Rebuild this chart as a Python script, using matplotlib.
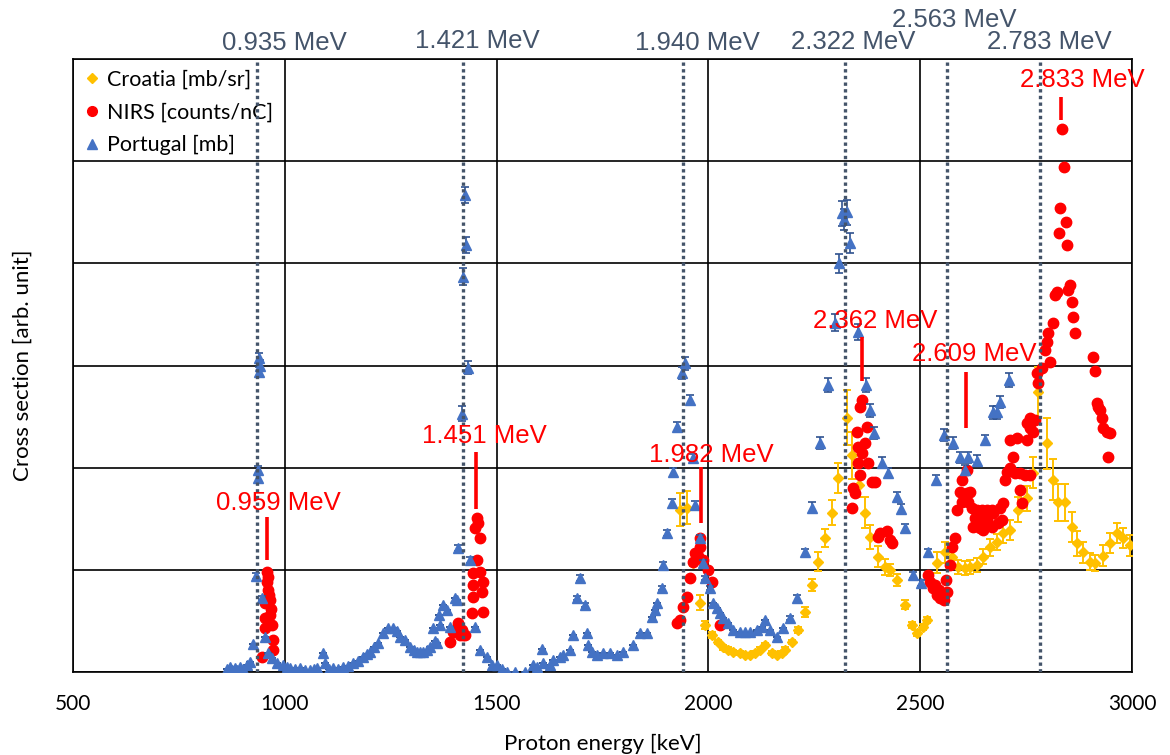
import matplotlib
matplotlib.use("Agg")
import matplotlib.pyplot as plt
from matplotlib.lines import Line2D

# ---------------- data ----------------
# Portugal [mb] (blue triangles)
port_e = [863, 870, 876, 882, 888, 895, 901, 910, 918, 925,
          932, 936, 937, 939, 940, 941, 946, 953, 960, 970,
          982, 996, 1005, 1012, 1024, 1036, 1048, 1060, 1068, 1076,
          1090, 1095, 1105, 1114, 1125, 1137, 1150, 1161, 1173, 1185,
          1195, 1201, 1210, 1220, 1232, 1244, 1255, 1265, 1272, 1284,
          1296, 1305, 1312, 1320, 1326, 1336, 1343, 1350, 1355, 1359,
          1364, 1366, 1374, 1383, 1390, 1402, 1407, 1409, 1418, 1421,
          1425, 1428, 1432, 1437, 1449, 1461, 1477, 1490, 1501, 1513,
          1524, 1543, 1567, 1586, 1595, 1607, 1610, 1626, 1633, 1650,
          1657, 1673, 1680, 1690, 1697, 1709, 1713, 1716, 1725, 1737,
          1751, 1768, 1784, 1798, 1822, 1839, 1855, 1867, 1874, 1879,
          1890, 1893, 1902, 1914, 1916, 1926, 1938, 1945, 1957, 1964,
          1968, 1980, 1987, 1992, 2004, 2011, 2020, 2027, 2035, 2046,
          2058, 2075, 2086, 2098, 2115, 2127, 2134, 2145, 2162, 2176,
          2193, 2209, 2228, 2245, 2263, 2282, 2299, 2308, 2315, 2320,
          2327, 2334, 2353, 2372, 2381, 2391, 2410, 2424, 2445, 2455,
          2464, 2483, 2502, 2518, 2537, 2556, 2577, 2594, 2606, 2613,
          2634, 2653, 2672, 2681, 2688, 2710]
port_v = [0.03, 0.05, 0.02, 0.04, 0.02, 0.05, 0.03, 0.07, 0.10, 0.27,
          0.94, 1.90, 1.98, 2.94, 3.07, 3.00, 0.72, 0.34, 0.19, 0.14,
          0.09, 0.07, 0.05, 0.04, 0.03, 0.04, 0.02, 0.02, 0.03, 0.04,
          0.19, 0.09, 0.03, 0.04, 0.03, 0.05, 0.06, 0.09, 0.11, 0.15,
          0.18, 0.20, 0.24, 0.28, 0.38, 0.43, 0.43, 0.40, 0.34, 0.31,
          0.24, 0.22, 0.20, 0.20, 0.20, 0.22, 0.24, 0.43, 0.30, 0.28,
          0.56, 0.46, 0.66, 0.61, 0.44, 0.72, 0.70, 1.21, 2.53, 3.87,
          4.67, 4.18, 2.98, 1.10, 0.44, 0.22, 0.15, 0.07, 0.07, 0.03,
          0.00, 0.00, 0.00, 0.07, 0.05, 0.23, 0.09, 0.07, 0.12, 0.15,
          0.17, 0.22, 0.36, 0.72, 0.92, 0.66, 0.38, 0.26, 0.20, 0.17,
          0.19, 0.19, 0.17, 0.20, 0.26, 0.38, 0.38, 0.54, 0.61, 0.68,
          0.82, 1.05, 1.36, 1.65, 1.96, 2.40, 2.93, 3.02, 2.66, 2.09,
          1.63, 1.31, 1.07, 0.92, 0.82, 0.68, 0.63, 0.58, 0.53, 0.48,
          0.41, 0.39, 0.39, 0.39, 0.41, 0.44, 0.51, 0.41, 0.34, 0.43,
          0.53, 0.72, 1.17, 1.61, 2.24, 2.81, 3.42, 4.00, 4.49, 4.43,
          4.50, 4.20, 3.33, 2.81, 2.56, 2.34, 2.05, 1.95, 1.71, 1.60,
          1.41, 0.95, 0.87, 1.17, 1.88, 2.32, 2.24, 2.10, 1.98, 2.10,
          2.07, 2.27, 2.54, 2.54, 2.64, 2.86]
port_err = [0, 0, 0, 0, 0, 0, 0, 0, 0, 0,
            0.03, 0.04, 0.04, 0.05, 0.05, 0.05, 0.02, 0, 0, 0,
            0, 0, 0, 0, 0, 0, 0, 0, 0, 0,
            0, 0, 0, 0, 0, 0, 0, 0, 0, 0,
            0, 0, 0, 0, 0, 0, 0, 0, 0, 0,
            0, 0, 0, 0, 0, 0, 0, 0, 0, 0,
            0, 0, 0, 0, 0, 0, 0, 0.03, 0.07, 0.08,
            0.08, 0.08, 0.06, 0.03, 0, 0, 0, 0, 0, 0,
            0, 0, 0, 0, 0, 0, 0, 0, 0, 0,
            0, 0, 0, 0.02, 0.03, 0.02, 0, 0, 0, 0,
            0, 0, 0, 0, 0, 0, 0, 0, 0, 0,
            0.02, 0.03, 0.03, 0.04, 0.04, 0.05, 0.06, 0.06, 0.05, 0.04,
            0.04, 0.03, 0.03, 0.02, 0.02, 0, 0, 0, 0, 0,
            0, 0, 0, 0, 0, 0, 0, 0, 0, 0,
            0.02, 0.03, 0.03, 0.05, 0.06, 0.07, 0.08, 0.09, 0.12, 0.10,
            0.12, 0.10, 0.08, 0.07, 0.06, 0.06, 0.05, 0.05, 0.05, 0.04,
            0.04, 0.03, 0.03, 0.03, 0.05, 0.06, 0.06, 0.05, 0.05, 0.05,
            0.05, 0.05, 0.06, 0.06, 0.06, 0.07]

# NIRS [counts/nC] (red circles)
nirs_e = [958, 961, 958, 960, 963, 965, 953, 967, 965, 953, 969, 953, 972, 972, 946,
          1454, 1456, 1449, 1461, 1454, 1461, 1444, 1468, 1444, 1466, 1444, 1442,
          1468, 1409, 1418, 1397, 1406, 1420, 1390, 1425, 1413,
          1980, 1980, 1975, 1968, 1964, 1987, 1999, 1957, 2008, 1950, 1940, 1933,
          1926, 2027,
          2363, 2358, 2374, 2351, 2370, 2353, 2363, 2377, 2353, 2358, 2386, 2393,
          2341, 2346, 2339, 2400, 2422, 2405, 2429, 2433,
          2518, 2523, 2530, 2535, 2540, 2545, 2547, 2551, 2556, 2560, 2563, 2570,
          2575, 2582, 2587,
          2599, 2610, 2594, 2610, 2618, 2599, 2613, 2622, 2634, 2646, 2658, 2669,
          2629, 2646, 2653, 2672, 2688, 2695, 2625, 2641, 2648, 2669, 2684, 2693,
          2658,
          2700, 2705, 2712, 2719, 2724, 2736, 2736, 2740, 2747, 2759, 2712, 2729,
          2752, 2759, 2766, 2752, 2759, 2771,
          2776, 2778, 2788, 2795, 2799, 2802, 2806, 2813, 2818, 2823, 2849, 2853,
          2858, 2861, 2865, 2828, 2830, 2835, 2839, 2844, 2846,
          2908, 2912, 2917, 2919, 2924, 2929, 2931, 2941, 2948, 2943]
nirs_v = [0.98, 0.93, 0.88, 0.80, 0.75, 0.70, 0.68, 0.62, 0.56, 0.53, 0.46, 0.43, 0.31, 0.22, 0.15,
          1.51, 1.46, 1.41, 1.31, 1.10, 0.98, 0.97, 0.88, 0.85, 0.78, 0.73, 0.58,
          0.59, 0.48, 0.41, 0.39, 0.43, 0.36, 0.29, 0.36, 0.36,
          1.31, 1.22, 1.14, 1.16, 1.08, 1.10, 1.00, 0.92, 0.88, 0.73, 0.64, 0.51,
          0.48, 0.46,
          2.66, 2.59, 2.40, 2.35, 2.24, 2.20, 2.14, 2.05, 2.05, 1.93, 1.86, 1.86,
          1.80, 1.75, 1.61, 1.32, 1.38, 1.36, 1.29, 1.26,
          0.95, 0.88, 0.82, 0.85, 0.75, 0.80, 0.72, 0.72, 0.70, 0.90, 0.78, 1.05,
          1.22, 1.31, 1.59,
          1.88, 1.98, 1.76, 1.75, 1.76, 1.66, 1.66, 1.61, 1.59, 1.59, 1.59, 1.59,
          1.51, 1.49, 1.56, 1.56, 1.61, 1.65, 1.42, 1.41, 1.39, 1.42, 1.46, 1.49,
          1.49,
          1.88, 1.96, 2.00, 2.10, 1.95, 1.95, 1.78, 1.65, 1.93, 1.93, 2.27, 2.29,
          2.27, 2.39, 2.35, 2.44, 2.49, 2.47,
          2.93, 2.83, 2.98, 3.15, 3.23, 3.32, 3.03, 3.42, 3.69, 3.72, 3.74, 3.79,
          3.62, 3.47, 3.32, 4.30, 4.54, 5.31, 4.94, 4.40, 4.18,
          3.08, 2.95, 2.63, 2.59, 2.56, 2.49, 2.39, 2.35, 2.34, 2.10]

# Croatia [mb/sr] (gold diamonds)
cro_e = [1933, 1950, 1964, 1980, 1992, 2008, 2023, 2034, 2046, 2058,
         2075, 2086, 2098, 2110, 2122, 2134, 2150, 2162, 2174, 2181,
         2197, 2212, 2228, 2245, 2259, 2275, 2292, 2306, 2327, 2339,
         2355, 2370, 2381, 2400, 2417, 2429, 2445, 2464, 2481, 2492,
         2507, 2516, 2540, 2559, 2575, 2589, 2606, 2618, 2634, 2648,
         2665, 2681, 2695, 2712, 2731, 2752, 2766, 2778, 2799, 2813,
         2825, 2842, 2858, 2870, 2884, 2901, 2913, 2931, 2948, 2965, 2979, 2995]
cro_v = [1.59, 1.61, 1.07, 0.68, 0.46, 0.36, 0.29, 0.24, 0.22, 0.20,
         0.19, 0.17, 0.17, 0.19, 0.22, 0.26, 0.19, 0.17, 0.19, 0.22,
         0.29, 0.41, 0.59, 0.85, 1.08, 1.31, 1.56, 1.90, 2.49, 2.12,
         1.83, 1.56, 1.32, 1.13, 1.03, 1.00, 0.90, 0.66, 0.46, 0.38,
         0.44, 0.51, 1.07, 1.17, 1.13, 1.03, 1.02, 1.03, 1.05, 1.13,
         1.22, 1.27, 1.36, 1.39, 1.59, 1.70, 1.95, 2.74, 2.24, 1.88,
         1.66, 1.66, 1.42, 1.26, 1.17, 1.08, 1.07, 1.14, 1.26, 1.36, 1.31, 1.24]
cro_err = [0.16, 0.16, 0.03, 0.07, 0.04, 0.03, 0.02, 0.02, 0.02, 0.02,
           0.02, 0.02, 0.02, 0.02, 0.02, 0.02, 0.02, 0.02, 0.02, 0.02,
           0.02, 0.03, 0.05, 0.06, 0.09, 0.09, 0.12, 0.15, 0.27, 0.23,
           0.12, 0.15, 0.12, 0.10, 0.08, 0.06, 0.06, 0.04, 0.03, 0.03,
           0.03, 0.03, 0.10, 0.10, 0.08, 0.07, 0.07, 0.07, 0.07, 0.07,
           0.08, 0.08, 0.10, 0.10, 0.12, 0.12, 0.15, 0.25, 0.25, 0.20,
           0.18, 0.18, 0.15, 0.12, 0.10, 0.08, 0.08, 0.10, 0.10, 0.10, 0.10, 0.10]

# reference resonance energies (dotted lines) and NIRS peak markers (red)
ref_energies = [935, 1421, 1940, 2322, 2563, 2783]
ref_labels = ["0.935 MeV", "1.421 MeV", "1.940 MeV", "2.322 MeV", "2.563 MeV", "2.783 MeV"]
nirs_peaks = [959, 1451, 1982, 2362, 2609, 2833]
nirs_labels = ["0.959 MeV", "1.451 MeV", "1.982 MeV", "2.362 MeV", "2.609 MeV", "2.833 MeV"]

x_ticks = [500, 1000, 1500, 2000, 2500, 3000]

# ---------------- layout / style ----------------
ref_label_x = [1000, 1454, 1973, 2341, 2580, 2804]
ref_label_y = [6.16, 6.18, 6.16, 6.17, 6.38, 6.17]
peak_bar_y = [(1.10, 1.52), (1.60, 2.15), (1.46, 2.01), (2.85, 3.28), (2.39, 2.94), (5.40, 5.63)]
peak_label_x = [986, 1470, 2006, 2393, 2627, 2882]
peak_label_y = [1.65, 2.31, 2.12, 3.44, 3.11, 5.79]

GOLD = "#FFC000"
RED = "#FF0000"
BLUE = "#4472C4"
SLATE = "#44546A"
UI_FONT = ["Lato", "DejaVu Sans"]
ANN_FONT = ["Liberation Sans", "DejaVu Sans"]

W, H = 1170, 755
fig = plt.figure(figsize=(W / 100, H / 100), dpi=100)
AX_W = 1132 - 73
ax = fig.add_axes([73 / W, 1 - 672 / H, AX_W / W, (672 - 59) / H])

ax.set_xlim(500, 3000)
ax.set_ylim(0, 6)
ax.set_xticks(x_ticks)
ax.set_xticklabels([str(t) for t in x_ticks], fontfamily=UI_FONT, fontsize=15)
ax.set_yticks(range(0, 7))
ax.set_yticklabels([])
ax.tick_params(length=0, pad=16)
ax.grid(True, color="black", linewidth=1.2)
ax.set_axisbelow(True)
for s in ax.spines.values():
    s.set_color("black")
    s.set_linewidth(1.2)

ax.set_xlabel("Proton energy [keV]", fontfamily=UI_FONT, fontsize=16, labelpad=14)
ax.set_ylabel("Cross section [arb. unit]", fontfamily=UI_FONT, fontsize=16)
ax.yaxis.set_label_coords(-40 / AX_W, 0.5)

# series: Croatia, NIRS, Portugal (drawn in this order)
ax.errorbar(cro_e, cro_v, yerr=cro_err, fmt="D", color=GOLD, ms=5, mec=GOLD,
            ecolor=GOLD, elinewidth=1.4, capsize=3, capthick=1.4, zorder=3)
ax.plot(nirs_e, nirs_v, "o", color=RED, ms=7.5, mec=RED, zorder=4, linestyle="none")
ax.errorbar(port_e, port_v, yerr=port_err, fmt="^", color=BLUE, ms=7, mec=BLUE,
            ecolor="#2F528F", elinewidth=1.2, capsize=3, capthick=1.2, zorder=5)

# dotted reference lines
for e in ref_energies:
    ax.axvline(e, color=SLATE, linewidth=2.4, linestyle=(0, (1, 1)),
               dash_capstyle="butt", zorder=6)
for lx, ly, t in zip(ref_label_x, ref_label_y, ref_labels):
    ax.text(lx, ly, t, color=SLATE, fontsize=18.5, fontfamily=ANN_FONT,
            ha="center", va="center", clip_on=False, zorder=7)

# NIRS peak markers
for e, (y0, y1) in zip(nirs_peaks, peak_bar_y):
    ax.plot([e, e], [y0, y1], color=RED, linewidth=2.6, solid_capstyle="butt", zorder=7)
for lx, ly, t in zip(peak_label_x, peak_label_y, nirs_labels):
    ax.text(lx, ly, t, color=RED, fontsize=18.5, fontfamily=ANN_FONT,
            ha="center", va="center", clip_on=False, zorder=8)

handles = [
    Line2D([], [], marker="D", color=GOLD, linestyle="none", ms=5),
    Line2D([], [], marker="o", color=RED, linestyle="none", ms=7),
    Line2D([], [], marker="^", color=BLUE, linestyle="none", ms=7),
]
leg = ax.legend(handles, ["Croatia [mb/sr]", "NIRS [counts/nC]", "Portugal [mb]"],
                loc="upper left", bbox_to_anchor=(0.0, 1.0), frameon=False,
                prop={"family": UI_FONT, "size": 15.5}, handlelength=0.8,
                handletextpad=0.3, labelspacing=0.6, borderaxespad=0.28,
                borderpad=0.2)
leg.set_zorder(5)

fig.savefig("out.png", dpi=100)
